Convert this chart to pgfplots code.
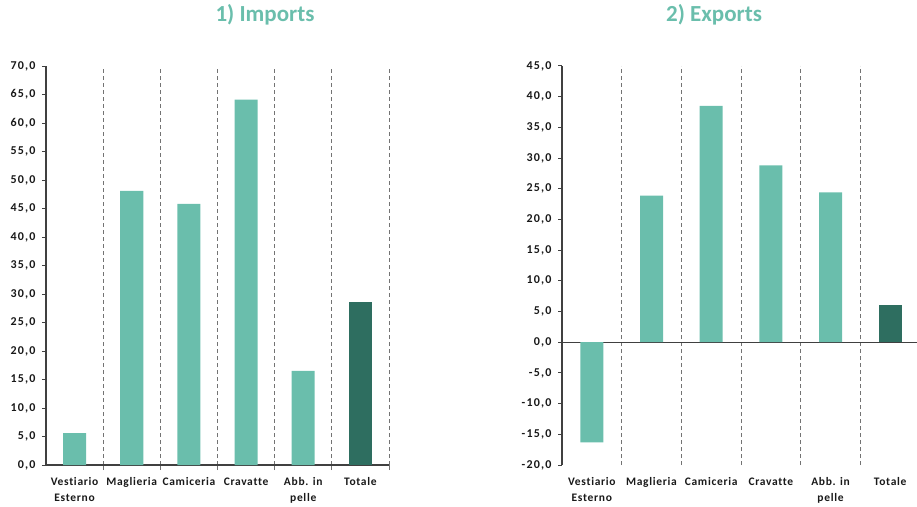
\documentclass[border=0pt]{standalone}
\usepackage{fontspec}
\setmainfont{Carlito}[Ligatures=NoCommon]
\usepackage{pgfplots}
\pgfplotsset{compat=1.18}
\definecolor{lt}{HTML}{6ABEAC}
\definecolor{dk}{HTML}{2E6E60}
\definecolor{axc}{HTML}{404040}
\pgfplotsset{
  mychart/.style={
    scale only axis,
    height=399pt,
    xmin=-0.5, xmax=5.5,
    xtick={0,...,5},
    xticklabels={{Vestiario\\Esterno},Maglieria,Camiceria,Cravatte,{Abb. in\\pelle},Totale},
    xticklabel style={align=center, font=\fontsize{11.5}{16}\selectfont\bfseries\addfontfeatures{LetterSpace=6}, text=black!90, yshift=-5pt},
    major x tick style={draw=none},
    minor xtick={0.5,1.5,...,5.5},
    xminorgrids,
    minor grid style={dash pattern=on 4pt off 3pt, black!55, line width=0.7pt},
    axis y line*=left,
    axis x line*=bottom,
    axis line style={-, axc, line width=1.1pt},
    ytick pos=left,
    tick align=outside,
    major tick length=4pt,
    minor tick length=5pt,
    y tick style={axc, line width=1pt},
    minor x tick style={black!55, line width=0.7pt},
    yticklabel style={font=\fontsize{12}{13}\selectfont\bfseries\addfontfeatures{LetterSpace=10}, text=black!90, xshift=-3pt},
    /pgf/number format/.cd, fixed, fixed zerofill, precision=1, use comma, assume math mode=true,
    /pgfplots/.cd,
    ybar, bar width=23pt,
    clip=false,
  }
}
\begin{document}
\begin{tikzpicture}[x=1pt,y=1pt]
\useasboundingbox (0,0) rectangle (917,506);
\node[anchor=base, text=lt, font=\fontsize{23}{26}\selectfont\bfseries] at (265,484) {1) Imports};
\node[anchor=base, text=lt, font=\fontsize{23}{26}\selectfont\bfseries] at (714,484) {2) Exports};

\begin{axis}[mychart, at={(46pt,41pt)}, anchor=south west, width=343pt,
  ymin=0, ymax=70, ytick={0,5,...,70}]
\addplot[fill=lt, draw=none, bar shift=0pt] coordinates {(0,5.6) (1,48.1) (2,45.8) (3,64.1) (4,16.5)};
\addplot[fill=dk, draw=none, bar shift=0pt] coordinates {(5,28.6)};
\end{axis}

\begin{axis}[mychart, at={(562pt,41pt)}, anchor=south west, width=358pt,
  ymin=-20, ymax=45, ytick={-20,-15,...,45},
  x axis line style={draw=none}, minor x tick style={draw=none},
  extra y ticks={0}, extra y tick labels={},
  extra y tick style={grid=major, major grid style={axc, line width=1.1pt}, major tick length=0pt}]
\addplot[fill=lt, draw=none, bar shift=0pt] coordinates {(0,-16.3) (1,23.9) (2,38.5) (3,28.8) (4,24.4)};
\addplot[fill=dk, draw=none, bar shift=0pt] coordinates {(5,6.0)};
\end{axis}
\end{tikzpicture}
\end{document}
